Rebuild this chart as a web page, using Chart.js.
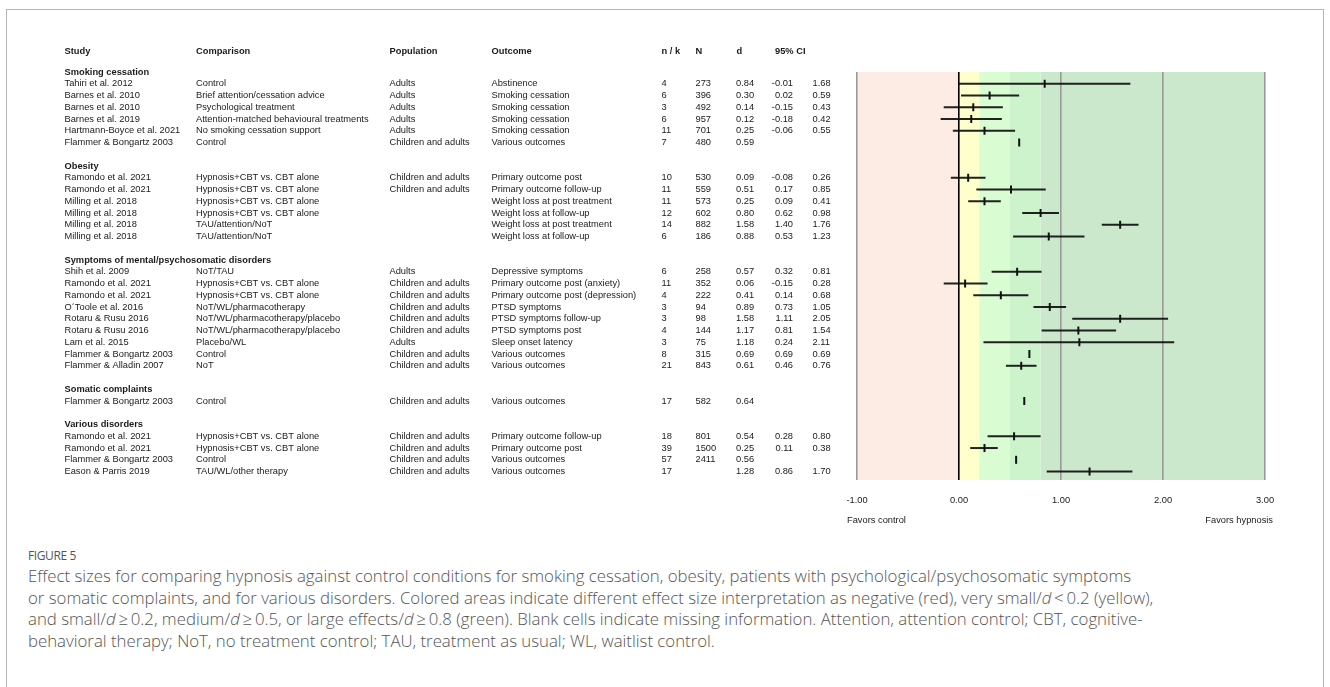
<!DOCTYPE html>
<html lang="en">
<head>
    <meta charset="UTF-8">
    <title>Figure 5 - Hypnosis vs control effect sizes</title>
    <script src="https://cdn.jsdelivr.net/npm/chart.js"></script>
    <style>
        body {
            margin: 0;
            background: #fff;
            width: 1330px;
            height: 687px;
            overflow: hidden;
            position: relative;
        }
        #frame {
            position: absolute;
            left: 6px;
            top: 9px;
            width: 1316px;
            height: 700px;
            border: 1px solid #b5b5b5;
        }
        #chart-box {
            position: absolute;
            left: 0;
            top: 0;
            width: 1330px;
            height: 540px;
        }
        #fig-label {
            position: absolute;
            left: 28px;
            top: 547px;
            font-family: "Open Sans", sans-serif;
            font-size: 12px;
            letter-spacing: -0.4px;
            color: #555;
        }
        #caption {
            position: absolute;
            left: 28px;
            top: 565px;
            font-family: "Open Sans", sans-serif;
            font-weight: 300;
            font-size: 16.8px;
            line-height: 21.7px;
            color: #555;
            white-space: nowrap;
        }
    </style>
</head>
<body>
    <div id="frame"></div>
    <div id="chart-box">
        <canvas id="forestChart"></canvas>
    </div>
    <div id="fig-label">FIGURE 5</div>
    <div id="caption">
        Effect sizes for comparing hypnosis against control conditions for smoking cessation, obesity, patients with psychological/psychosomatic symptoms<br>
        or somatic complaints, and for various disorders. Colored areas indicate different effect size interpretation as negative (red), very small/<i>d</i>&#8201;&lt;&#8201;0.2 (yellow),<br>
        and small/<i>d</i>&#8201;&ge;&#8201;0.2, medium/<i>d</i>&#8201;&ge;&#8201;0.5, or large effects/<i>d</i>&#8201;&ge;&#8201;0.8 (green). Blank cells indicate missing information. Attention, attention control; CBT, cognitive-<br>
        behavioral therapy; NoT, no treatment control; TAU, treatment as usual; WL, waitlist control.
    </div>

    <script>
        // table / forest data, one entry per study row
        const groups = ['Smoking cessation', 'Obesity', 'Symptoms of mental/psychosomatic disorders',
            'Somatic complaints', 'Various disorders'];
        const groupOf = [0, 0, 0, 0, 0, 0,
            1, 1, 1, 1, 1, 1,
            2, 2, 2, 2, 2, 2, 2, 2, 2,
            3,
            4, 4, 4, 4];
        const studies = ['Tahiri et al. 2012', 'Barnes et al. 2010', 'Barnes et al. 2010', 'Barnes et al. 2019',
            'Hartmann-Boyce et al. 2021', 'Flammer & Bongartz 2003',
            'Ramondo et al. 2021', 'Ramondo et al. 2021', 'Milling et al. 2018', 'Milling et al. 2018',
            'Milling et al. 2018', 'Milling et al. 2018',
            'Shih et al. 2009', 'Ramondo et al. 2021', 'Ramondo et al. 2021', 'O´Toole et al. 2016',
            'Rotaru & Rusu 2016', 'Rotaru & Rusu 2016', 'Lam et al. 2015', 'Flammer & Bongartz 2003',
            'Flammer & Alladin 2007',
            'Flammer & Bongartz 2003',
            'Ramondo et al. 2021', 'Ramondo et al. 2021', 'Flammer & Bongartz 2003', 'Eason & Parris 2019'];
        const comparisons = ['Control', 'Brief attention/cessation advice', 'Psychological treatment',
            'Attention-matched behavioural treatments', 'No smoking cessation support', 'Control',
            'Hypnosis+CBT vs. CBT alone', 'Hypnosis+CBT vs. CBT alone', 'Hypnosis+CBT vs. CBT alone',
            'Hypnosis+CBT vs. CBT alone', 'TAU/attention/NoT', 'TAU/attention/NoT',
            'NoT/TAU', 'Hypnosis+CBT vs. CBT alone', 'Hypnosis+CBT vs. CBT alone', 'NoT/WL/pharmacotherapy',
            'NoT/WL/pharmacotherapy/placebo', 'NoT/WL/pharmacotherapy/placebo', 'Placebo/WL', 'Control', 'NoT',
            'Control',
            'Hypnosis+CBT vs. CBT alone', 'Hypnosis+CBT vs. CBT alone', 'Control', 'TAU/WL/other therapy'];
        const populations = ['Adults', 'Adults', 'Adults', 'Adults', 'Adults', 'Children and adults',
            'Children and adults', 'Children and adults', '', '', '', '',
            'Adults', 'Children and adults', 'Children and adults', 'Children and adults', 'Children and adults',
            'Children and adults', 'Adults', 'Children and adults', 'Children and adults',
            'Children and adults',
            'Children and adults', 'Children and adults', 'Children and adults', 'Children and adults'];
        const outcomes = ['Abstinence', 'Smoking cessation', 'Smoking cessation', 'Smoking cessation',
            'Smoking cessation', 'Various outcomes',
            'Primary outcome post', 'Primary outcome follow-up', 'Weight loss at post treatment',
            'Weight loss at follow-up', 'Weight loss at post treatment', 'Weight loss at follow-up',
            'Depressive symptoms', 'Primary outcome post (anxiety)', 'Primary outcome post (depression)',
            'PTSD symptoms', 'PTSD symptoms follow-up', 'PTSD symptoms post', 'Sleep onset latency',
            'Various outcomes', 'Various outcomes',
            'Various outcomes',
            'Primary outcome follow-up', 'Primary outcome post', 'Various outcomes', 'Various outcomes'];
        const nk = [4, 6, 3, 6, 11, 7, 10, 11, 11, 12, 14, 6, 6, 11, 4, 3, 3, 4, 3, 8, 21, 17, 18, 39, 57, 17];
        const sampleN = [273, 396, 492, 957, 701, 480, 530, 559, 573, 602, 882, 186,
            258, 352, 222, 94, 98, 144, 75, 315, 843, 582, 801, 1500, 2411, null];
        const effectD = [0.84, 0.30, 0.14, 0.12, 0.25, 0.59, 0.09, 0.51, 0.25, 0.80, 1.58, 0.88,
            0.57, 0.06, 0.41, 0.89, 1.58, 1.17, 1.18, 0.69, 0.61, 0.64, 0.54, 0.25, 0.56, 1.28];
        const ciLow = [-0.01, 0.02, -0.15, -0.18, -0.06, null, -0.08, 0.17, 0.09, 0.62, 1.40, 0.53,
            0.32, -0.15, 0.14, 0.73, 1.11, 0.81, 0.24, 0.69, 0.46, null, 0.28, 0.11, null, 0.86];
        const ciHigh = [1.68, 0.59, 0.43, 0.42, 0.55, null, 0.26, 0.85, 0.41, 0.98, 1.76, 1.23,
            0.81, 0.28, 0.68, 1.05, 2.05, 1.54, 2.11, 0.69, 0.76, null, 0.80, 0.38, null, 1.70];

        const xTicks = [-1, 0, 1, 2, 3];
        // effect size interpretation bands: negative / very small / small / medium / large
        const bandEdges = [-1, 0, 0.2, 0.5, 0.8, 3];
        const bandColors = ['#fcece3', '#ffffcc', '#dafcd2', '#cdf3cd', '#cce8cc'];

        // row numbers: group header, its studies, one blank line between groups
        const headerRow = [];
        const studyRow = [];
        let r = 0;
        groups.forEach((g, gi) => {
            headerRow.push(r);
            r++;
            groupOf.forEach((gg, i) => {
                if (gg === gi) { studyRow[i] = r; r++; }
            });
            r++;
        });

        const fmt = v => (v === null || v === undefined) ? '' : v.toFixed(2);

        const ciDatasets = studies.map((s, i) => ({
            type: 'scatter',
            data: ciLow[i] === null ? [] : [{ x: ciLow[i], y: studyRow[i] }, { x: ciHigh[i], y: studyRow[i] }],
            showLine: true,
            borderColor: 'rgba(10,10,10,0.9)',
            borderWidth: 2,
            pointRadius: 0,
            order: 2
        }));

        const bandPlugin = {
            id: 'bands',
            beforeDraw(chart) {
                const ctx = chart.ctx;
                const xs = chart.scales.x;
                const area = chart.chartArea;
                ctx.save();
                for (let i = 0; i < bandColors.length; i++) {
                    const x0 = xs.getPixelForValue(bandEdges[i]);
                    const x1 = xs.getPixelForValue(bandEdges[i + 1]);
                    ctx.fillStyle = bandColors[i];
                    ctx.fillRect(x0, area.top, x1 - x0, area.bottom - area.top);
                }
                ctx.restore();
            }
        };

        const tablePlugin = {
            id: 'table',
            afterDraw(chart) {
                const ctx = chart.ctx;
                const ys = chart.scales.y;
                const xs = chart.scales.x;
                ctx.save();
                ctx.fillStyle = '#1a1a1a';
                ctx.textBaseline = 'middle';
                const bold = 'bold 9.3px "Liberation Sans", Arial, sans-serif';
                const normal = '9.3px "Liberation Sans", Arial, sans-serif';

                // column headings
                const hy = ys.getPixelForValue(-1.79);
                ctx.font = bold;
                ctx.textAlign = 'left';
                [['Study', 64.5], ['Comparison', 196], ['Population', 389.5], ['Outcome', 491.5],
                    ['n / k', 661.5], ['N', 695.5], ['d', 736.5], ['95% CI', 775]].forEach(h => {
                    ctx.fillText(h[0], h[1], hy);
                });

                groups.forEach((g, gi) => {
                    ctx.font = bold;
                    ctx.textAlign = 'left';
                    ctx.fillText(g, 64.5, ys.getPixelForValue(headerRow[gi]));
                });

                ctx.font = normal;
                studies.forEach((s, i) => {
                    const y = ys.getPixelForValue(studyRow[i]);
                    ctx.textAlign = 'left';
                    ctx.fillText(s, 64.5, y);
                    ctx.fillText(comparisons[i], 196, y);
                    ctx.fillText(populations[i], 389.5, y);
                    ctx.fillText(outcomes[i], 491.5, y);
                    ctx.fillText(String(nk[i]), 661.5, y);
                    ctx.fillText(sampleN[i] === null ? '' : String(sampleN[i]), 695.5, y);
                    ctx.fillText(fmt(effectD[i]), 736, y);
                    ctx.fillText(fmt(ciHigh[i]), 812.5, y);
                    ctx.textAlign = 'right';
                    ctx.fillText(fmt(ciLow[i]), 793, y);
                });

                // direction labels under the axis
                const ly = 520;
                ctx.textAlign = 'left';
                ctx.fillText('Favors control', xs.getPixelForValue(-1) - 10, ly);
                ctx.textAlign = 'right';
                ctx.fillText('Favors hypnosis', xs.getPixelForValue(3) + 8, ly);
                ctx.restore();
            }
        };

        new Chart(document.getElementById('forestChart'), {
            type: 'scatter',
            data: {
                datasets: [{
                    data: effectD.map((d, i) => ({ x: d, y: studyRow[i] })),
                    pointStyle: 'line',
                    rotation: 90,
                    radius: 4,
                    borderWidth: 2,
                    borderColor: '#111',
                    backgroundColor: '#111',
                    order: 1
                }].concat(ciDatasets)
            },
            options: {
                responsive: true,
                maintainAspectRatio: false,
                animation: false,
                events: [],
                layout: {
                    padding: { left: 857, right: 65, top: 72, bottom: 20 }
                },
                plugins: {
                    legend: { display: false },
                    tooltip: { enabled: false }
                },
                scales: {
                    x: {
                        type: 'linear',
                        min: -1,
                        max: 3,
                        afterBuildTicks: scale => { scale.ticks = xTicks.map(v => ({ value: v })); },
                        afterFit: scale => { scale.height = 40; },
                        border: { display: false },
                        grid: {
                            drawTicks: false,
                            lineWidth: 1.6,
                            color: c => (c.tick && c.tick.value === 0) ? '#000' : '#999'
                        },
                        ticks: {
                            padding: 15,
                            color: '#1a1a1a',
                            font: { family: '"Liberation Sans", Arial, sans-serif', size: 9.3 },
                            callback: v => Number(v).toFixed(2)
                        }
                    },
                    y: {
                        type: 'linear',
                        display: false,
                        reverse: true,
                        min: 0,
                        max: 34.72
                    }
                }
            },
            plugins: [bandPlugin, tablePlugin]
        });
    </script>
</body>
</html>
